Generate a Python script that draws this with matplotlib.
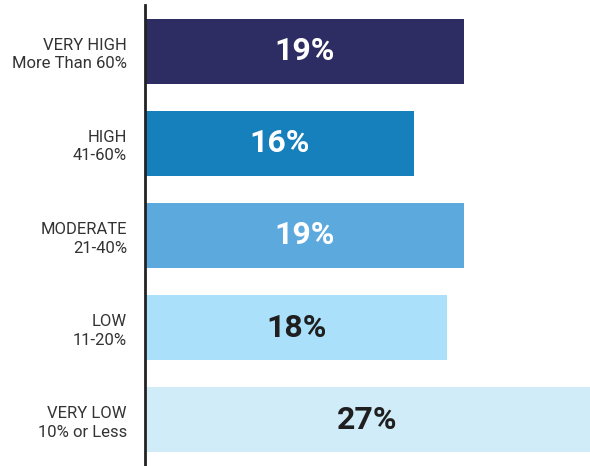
import matplotlib
matplotlib.use("Agg")
import matplotlib.pyplot as plt

# share of respondents per risk tier
tiers = ["VERY HIGH\nMore Than 60%", "HIGH\n41-60%", "MODERATE\n21-40%", "LOW\n11-20%", "VERY LOW\n10% or Less"]
shares = [19, 16, 19, 18, 27]
colors = ["#2E2D63", "#1580BC", "#5CA9DD", "#AAE0FA", "#D0ECF9"]
text_colors = ["white", "white", "white", "#1f1f1f", "#1f1f1f"]

XMAX = 26.5

fig = plt.figure(figsize=(5.9, 4.66), dpi=100)
ax = fig.add_axes([145 / 590, 0, 1 - 145 / 590, 1 - 5 / 466])

y = list(range(len(tiers)))
ax.barh(y, shares, height=0.705, color=colors)
for yi, v, tc in zip(y, shares, text_colors):
    ax.text(min(v, XMAX) / 2, yi, f"{v}%", ha="center", va="center",
            fontsize=23, fontweight="bold", color=tc, family="Roboto")

ax.set_xlim(0, XMAX)
ax.set_ylim(4.5, -0.5)
ax.set_yticks(y)
ax.set_yticklabels(tiers, fontsize=12, color="#333333", family="Roboto",
                   linespacing=1.3)
ax.tick_params(axis="y", length=0, pad=13)
ax.set_xticks([])
for s in ["top", "right", "bottom"]:
    ax.spines[s].set_visible(False)
ax.spines["left"].set_linewidth(2)
ax.spines["left"].set_color("#222222")

fig.savefig("out.png", dpi=100)
